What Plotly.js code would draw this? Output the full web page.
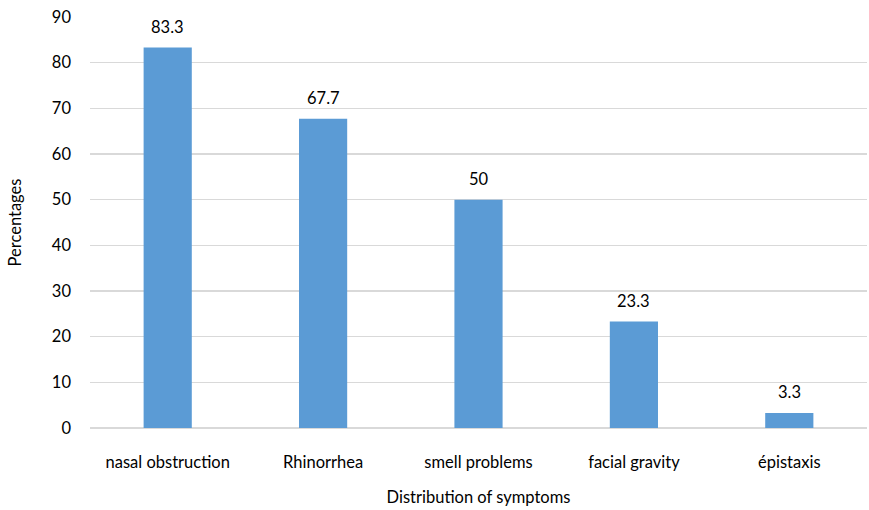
<!DOCTYPE html>
<html><head><meta charset="utf-8">
<script src="https://cdn.plot.ly/plotly-3.0.1.min.js"></script>
<style>body{margin:0;}#c{width:869px;height:510px;}</style>
</head><body><div id="c"></div>
<script>
const categories = ["nasal obstruction", "Rhinorrhea", "smell problems", "facial gravity", "épistaxis"];
const values = [83.3, 67.7, 50, 23.3, 3.3];
const labels = ["83.3", "67.7", "50", "23.3", "3.3"];
const yTicks = [0, 10, 20, 30, 40, 50, 60, 70, 80, 90];

const font = "Lato, 'Open Sans', sans-serif";
const annotations = categories.map((c, i) => ({
  x: c, y: values[i], text: labels[i], showarrow: false,
  xanchor: "center", yanchor: "bottom", yshift: 9,
  font: {family: font, size: 16.5, color: "#000"}
}));
Plotly.newPlot("c", [{
  type: "bar", x: categories, y: values,
  marker: {color: "#5B9BD5"}, width: 0.31
}], {
  width: 869, height: 510,
  margin: {l: 90, r: 2, t: 17, b: 82},
  paper_bgcolor: "#fff", plot_bgcolor: "#fff",
  font: {family: font, size: 16.5, color: "#000"},
  showlegend: false,
  annotations: annotations,
  xaxis: {type: "category", showgrid: false, zeroline: false, showline: false,
    ticks: "", ticklabelstandoff: 22, tickfont: {size: 16.5},
    title: {text: "Distribution of symptoms", font: {size: 16.5}, standoff: 20}},
  yaxis: {range: [0, 90], tickvals: yTicks, showgrid: true, gridcolor: "#d9d9d9", gridwidth: 1.3,
    zeroline: true, zerolinecolor: "#d9d9d9", zerolinewidth: 1.3, showline: false, ticks: "",
    ticklabelstandoff: 18, tickfont: {size: 16.5},
    title: {text: "Percentages", font: {size: 16.5}, standoff: 26}}
}, {displayModeBar: false, staticPlot: true});
</script></body></html>
